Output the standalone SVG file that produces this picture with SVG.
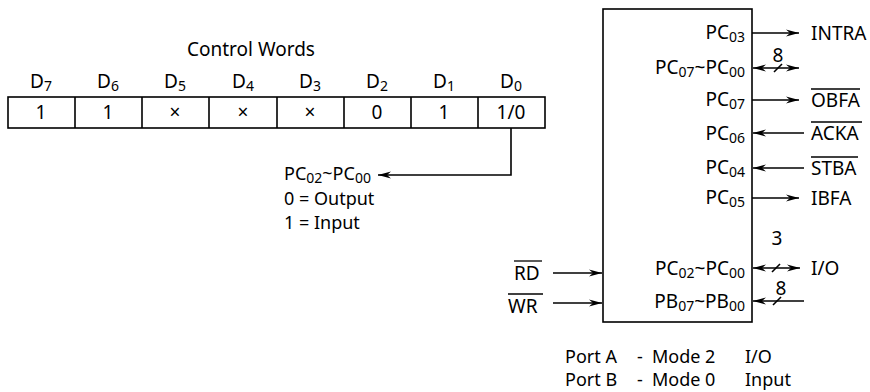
<svg xmlns="http://www.w3.org/2000/svg" width="870" height="392" viewBox="0 0 870 392">
<defs>
<style>
text{font-family:"Noto Sans","Liberation Sans",sans-serif;font-size:19px;fill:#000}
.c{text-anchor:middle}
.r{text-anchor:end}
.s{font-size:14px}
.m{font-size:18px}
.ln{stroke:#000;stroke-width:1.6;fill:none}
.box{stroke:#000;stroke-width:1.6;fill:#fff}
.ol{stroke:#000;stroke-width:1.3}
</style>
<marker id="ah" viewBox="0 0 13 8" refX="13" refY="4" markerWidth="13" markerHeight="8" markerUnits="userSpaceOnUse" orient="auto-start-reverse">
<path d="M0,0.5 L13,4 L0,7.5 L4,4 Z" fill="#000"/>
</marker>
</defs>

<g id="control-words">
<text class="c" x="251" y="56">Control Words</text>
<text class="c" x="41" y="88">D<tspan class="s" dy="3">7</tspan></text>
<text class="c" x="108" y="88">D<tspan class="s" dy="3">6</tspan></text>
<text class="c" x="175" y="88">D<tspan class="s" dy="3">5</tspan></text>
<text class="c" x="243" y="88">D<tspan class="s" dy="3">4</tspan></text>
<text class="c" x="310" y="88">D<tspan class="s" dy="3">3</tspan></text>
<text class="c" x="377" y="88">D<tspan class="s" dy="3">2</tspan></text>
<text class="c" x="444" y="88">D<tspan class="s" dy="3">1</tspan></text>
<text class="c" x="511" y="88">D<tspan class="s" dy="3">0</tspan></text>
<rect class="box" x="8" y="97" width="537" height="31"/>
<path class="ln" d="M75,97V128M142,97V128M209,97V128M277,97V128M344,97V128M411,97V128M478,97V128"/>
<text class="c" x="41" y="119">1</text>
<text class="c" x="108" y="119">1</text>
<text class="c" x="175" y="119">×</text>
<text class="c" x="243" y="119">×</text>
<text class="c" x="310" y="119">×</text>
<text class="c" x="377" y="119">0</text>
<text class="c" x="444" y="119">1</text>
<text class="c" x="511" y="119">1/0</text>
</g>

<g id="d0-note">
<text class="m" x="284" y="180">PC<tspan class="s" dy="2.5">02</tspan><tspan dy="-2.5">~PC</tspan><tspan class="s" dy="2.5">00</tspan></text>
<text class="m" x="284" y="205">0 = Output</text>
<text class="m" x="284" y="229">1 = Input</text>
</g>

<g id="chip">
<rect class="box" x="603" y="9" width="149" height="313"/>
<text class="r" x="745" y="39">PC<tspan class="s" dy="3">03</tspan></text>
<text class="r" x="745" y="74">PC<tspan class="s" dy="3">07</tspan><tspan dy="-3">~PC</tspan><tspan class="s" dy="3">00</tspan></text>
<text class="r" x="745" y="106">PC<tspan class="s" dy="3">07</tspan></text>
<text class="r" x="745" y="140">PC<tspan class="s" dy="3">06</tspan></text>
<text class="r" x="745" y="174">PC<tspan class="s" dy="3">04</tspan></text>
<text class="r" x="745" y="204">PC<tspan class="s" dy="3">05</tspan></text>
<text class="r" x="745" y="275">PC<tspan class="s" dy="3">02</tspan><tspan dy="-3">~PC</tspan><tspan class="s" dy="3">00</tspan></text>
<text class="r" x="745" y="308">PB<tspan class="s" dy="3">07</tspan><tspan dy="-3">~PB</tspan><tspan class="s" dy="3">00</tspan></text>
</g>

<g id="signals">
<text x="811" y="40">INTRA</text>
<text x="811" y="107">OBFA</text>
<line class="ol" x1="811" y1="89" x2="860" y2="89"/>
<text x="811" y="140">ACKA</text>
<line class="ol" x1="811" y1="122" x2="862" y2="122"/>
<text x="811" y="175">STBA</text>
<line class="ol" x1="811" y1="157" x2="858" y2="157"/>
<text x="811" y="205">IBFA</text>
<text x="811" y="275">I/O</text>
<text class="c" x="778" y="62">8</text>
<text class="c" x="777" y="245">3</text>
<text class="c" x="781" y="295">8</text>
<text x="514" y="280">RD</text>
<line class="ol" x1="514" y1="261" x2="542" y2="261"/>
<text x="508" y="313">WR</text>
<line class="ol" x1="508" y1="294" x2="543" y2="294"/>
</g>

<g id="mode-note">
<text class="m" x="565" y="363">Port A</text>
<text class="m" x="637" y="363">-</text>
<text class="m" x="652" y="363">Mode 2</text>
<text class="m" x="745" y="363">I/O</text>
<text class="m" x="565" y="386">Port B</text>
<text class="m" x="637" y="386">-</text>
<text class="m" x="652" y="386">Mode 0</text>
<text class="m" x="745" y="386">Input</text>
</g>

<g id="connectors">
<path class="ln" d="M511,128V175H378" marker-end="url(#ah)"/>
<line class="ln" x1="752" y1="33" x2="799" y2="33" marker-end="url(#ah)"/>
<line class="ln" x1="753" y1="68" x2="799" y2="68" marker-start="url(#ah)" marker-end="url(#ah)"/>
<line class="ln" x1="774" y1="72" x2="782" y2="64"/>
<line class="ln" x1="752" y1="100" x2="799" y2="100" marker-end="url(#ah)"/>
<line class="ln" x1="804" y1="133" x2="753" y2="133" marker-end="url(#ah)"/>
<line class="ln" x1="804" y1="168" x2="753" y2="168" marker-end="url(#ah)"/>
<line class="ln" x1="752" y1="198" x2="799" y2="198" marker-end="url(#ah)"/>
<line class="ln" x1="753" y1="268" x2="800" y2="268" marker-start="url(#ah)" marker-end="url(#ah)"/>
<line class="ln" x1="772" y1="272" x2="780" y2="264"/>
<line class="ln" x1="804" y1="301" x2="753" y2="301" marker-end="url(#ah)"/>
<line class="ln" x1="773" y1="305" x2="781" y2="297"/>
<line class="ln" x1="553" y1="273" x2="602" y2="273" marker-end="url(#ah)"/>
<line class="ln" x1="553" y1="303" x2="602" y2="303" marker-end="url(#ah)"/>
</g>
</svg>
